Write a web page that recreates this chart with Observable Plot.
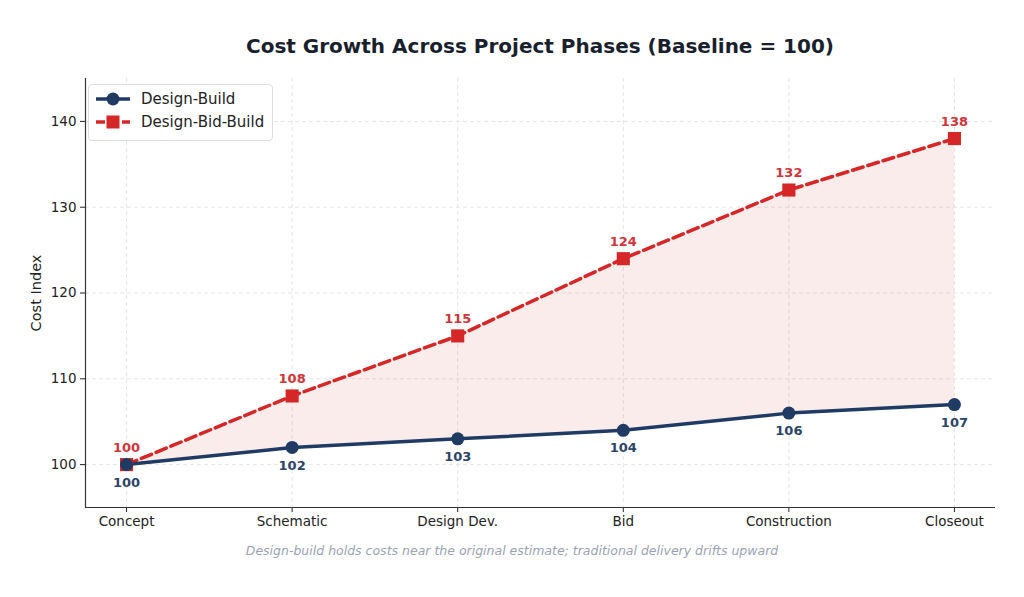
<!DOCTYPE html>
<html><head><meta charset="utf-8">
<script src="https://cdn.jsdelivr.net/npm/d3@7"></script>
<script src="https://cdn.jsdelivr.net/npm/@observablehq/plot@0.6"></script>
<style>
body{margin:0;background:#fff;font-family:"DejaVu Sans",sans-serif;}
#wrap{position:relative;width:1024px;height:597px;}
#title{position:absolute;left:0;width:1080px;top:34px;text-align:center;font-weight:bold;font-size:20px;color:#1a1f2e;}
#caption{position:absolute;left:0;width:1024px;top:543px;text-align:center;font-style:italic;font-size:12.5px;color:#9aa3b3;}
#legend{position:absolute;left:88px;top:84px;width:183px;height:55px;border:1px solid #ddd;border-radius:4px;background:rgba(255,255,255,0.9);font-size:15px;color:#222;}
.row{position:absolute;left:6px;height:20px;display:flex;align-items:center;}
.row span{margin-left:10px;}
</style></head>
<body>
<div id="wrap">
<div id="chart"></div>
<div id="title">Cost Growth Across Project Phases (Baseline = 100)</div>
<div id="legend">
 <div class="row" style="top:4px"><svg width="36" height="20"><line x1="1" y1="10" x2="35" y2="10" stroke="#1f3b63" stroke-width="3.5"/><circle cx="18" cy="10" r="6.5" fill="#1f3b63"/></svg><span>Design-Build</span></div>
 <div class="row" style="top:27px"><svg width="36" height="20"><line x1="1" y1="10" x2="35" y2="10" stroke="#d62728" stroke-width="3.5" stroke-dasharray="9,4"/><rect x="11.5" y="3.5" width="13" height="13" fill="#d62728"/></svg><span>Design-Bid-Build</span></div>
</div>
<div id="caption">Design-build holds costs near the original estimate; traditional delivery drifts upward</div>
</div>
<script>
const phases = ["Concept","Schematic","Design Dev.","Bid","Construction","Closeout"];
const designBuild = [100,102,103,104,106,107];
const designBidBuild = [100,108,115,124,132,138];
const yTicks = [100,110,120,130,140];

const data = phases.map((p,i)=>({i, phase:p, db:designBuild[i], dbb:designBidBuild[i]}));
const navy = "#1f3b63", red = "#d62728";

const chart = Plot.plot({
  width:1024, height:597,
  marginLeft:85, marginRight:29, marginTop:78, marginBottom:90,
  style:{fontFamily:"DejaVu Sans, sans-serif", fontSize:"13.5px", color:"#222", background:"#fff"},
  x:{type:"linear", domain:[-0.248,5.248]},
  y:{domain:[95,145]},
  marks:[
    Plot.gridY(yTicks,{stroke:"#e6e6e6", strokeOpacity:1, strokeDasharray:"4,3"}),
    Plot.gridX(d3.range(phases.length),{stroke:"#e6e6e6", strokeOpacity:1, strokeDasharray:"4,3"}),
    Plot.areaY(data,{x:"i", y1:"db", y2:"dbb", fill:red, fillOpacity:0.09}),
    Plot.line(data,{x:"i", y:"dbb", stroke:red, strokeWidth:3.5, strokeDasharray:"11,5"}),
    Plot.line(data,{x:"i", y:"db", stroke:navy, strokeWidth:3.5}),
    Plot.dot(data,{x:"i", y:"dbb", symbol:"square", r:7.4, fill:red}),
    Plot.dot(data,{x:"i", y:"db", r:6.5, fill:navy}),
    Plot.text(data,{x:"i", y:"dbb", text:d=>String(d.dbb), dy:-17, fill:"#d0353a", fontWeight:"bold", fontSize:13}),
    Plot.text(data,{x:"i", y:"db", text:d=>String(d.db), dy:18, fill:"#2c4468", fontWeight:"bold", fontSize:13}),
    Plot.axisY(yTicks,{tickSize:5, tickPadding:4, fontSize:13.5, label:null}),
    Plot.axisX(d3.range(phases.length),{tickSize:5, tickPadding:4, fontSize:13.5, tickFormat:i=>phases[i], label:null}),
    Plot.ruleX([-0.248],{stroke:"#333", strokeWidth:1.2}),
    Plot.ruleY([95],{stroke:"#333", strokeWidth:1.2}),
    Plot.text(["Cost Index"],{frameAnchor:"left", dx:-49, rotate:-90, textAnchor:"middle", fontSize:14.5, fill:"#222"})
  ]
});
document.getElementById("chart").appendChild(chart);
</script>
</body></html>
